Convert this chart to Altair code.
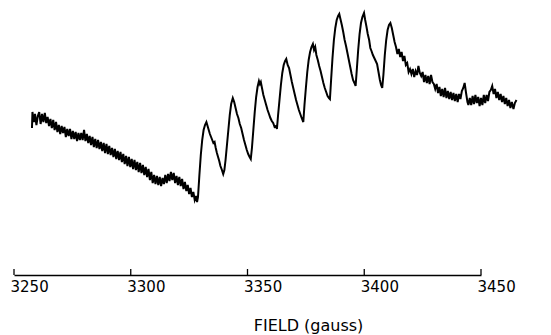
import altair as alt
import pandas as pd

# Magnetic field (gauss) and EPR derivative signal (arbitrary units)
field = [
    3257.7, 3257.9, 3258.5, 3259.0, 3259.6, 3260.2, 3260.8, 3261.4, 3262.0, 3262.6,
    3263.2, 3263.8, 3264.4, 3265.0, 3265.6, 3266.2, 3266.8, 3267.4, 3268.0, 3268.6,
    3269.2, 3269.8, 3270.4, 3271.0, 3271.6, 3272.2, 3272.8, 3273.4, 3274.0, 3274.6,
    3275.2, 3275.8, 3276.4, 3277.0, 3277.6, 3278.2, 3278.8, 3279.4, 3280.0, 3280.6,
    3281.2, 3281.8, 3282.4, 3283.0, 3283.6, 3284.2, 3284.8, 3285.4, 3286.0, 3286.6,
    3287.2, 3287.8, 3288.4, 3289.0, 3289.6, 3290.2, 3290.8, 3291.4, 3292.0, 3292.6,
    3293.2, 3293.8, 3294.4, 3295.0, 3295.6, 3296.2, 3296.8, 3297.4, 3298.0, 3298.6,
    3299.2, 3299.8, 3300.4, 3301.0, 3301.6, 3302.2, 3302.8, 3303.4, 3304.0, 3304.6,
    3305.2, 3305.8, 3306.4, 3307.0, 3307.6, 3308.2, 3308.8, 3309.4, 3310.0, 3310.6,
    3311.2, 3311.8, 3312.4, 3313.0, 3313.6, 3314.2, 3314.8, 3315.4, 3316.0, 3316.6,
    3317.2, 3317.8, 3318.4, 3319.0, 3319.6, 3320.2, 3320.8, 3321.4, 3322.0, 3322.6,
    3323.2, 3323.8, 3324.4, 3325.0, 3325.6, 3326.2, 3326.8, 3327.4, 3328.0, 3328.4,
    3328.8, 3329.4, 3330.0, 3330.6, 3331.2, 3331.8, 3332.4, 3332.9, 3333.4, 3333.9,
    3334.4, 3334.9, 3335.4, 3335.9, 3336.4, 3336.9, 3337.4, 3337.9, 3338.4, 3338.9,
    3339.6, 3340.1, 3340.6, 3341.2, 3341.8, 3342.4, 3343.0, 3343.7, 3344.3, 3344.9,
    3345.5, 3346.1, 3346.7, 3347.3, 3347.9, 3348.5, 3349.1, 3349.7, 3350.3, 3350.9,
    3351.4, 3351.9, 3352.5, 3353.1, 3353.7, 3354.3, 3354.9, 3355.3, 3355.7, 3356.2,
    3356.8, 3357.4, 3358.0, 3358.6, 3359.2, 3359.8, 3360.4, 3361.0, 3361.6, 3362.2,
    3362.6, 3363.1, 3363.7, 3364.3, 3364.9, 3365.5, 3366.1, 3366.6, 3367.2, 3367.8,
    3368.4, 3369.0, 3369.6, 3370.2, 3370.8, 3371.4, 3372.0, 3372.6, 3373.2, 3373.9,
    3374.4, 3375.0, 3375.6, 3376.2, 3376.8, 3377.4, 3378.0, 3378.5, 3379.0, 3379.5,
    3380.1, 3380.7, 3381.3, 3381.9, 3382.5, 3383.1, 3383.7, 3384.3, 3384.9, 3385.3,
    3385.8, 3386.4, 3387.0, 3387.6, 3388.2, 3388.8, 3389.3, 3389.8, 3390.4, 3391.0,
    3391.6, 3392.2, 3392.8, 3393.4, 3394.0, 3394.6, 3395.2, 3395.8, 3396.3, 3396.8,
    3397.4, 3398.0, 3398.6, 3399.2, 3399.9, 3400.4, 3400.9, 3401.5, 3402.1, 3402.6,
    3403.1, 3403.7, 3404.3, 3404.9, 3405.5, 3406.1, 3406.7, 3407.2, 3407.7, 3408.2,
    3408.8, 3409.4, 3410.0, 3410.6, 3411.2, 3411.8, 3412.4, 3413.0, 3413.6, 3414.2,
    3414.8, 3415.4, 3416.0, 3416.6, 3417.2, 3417.8, 3418.4, 3419.0, 3419.6, 3420.2,
    3420.8, 3421.4, 3422.0, 3422.6, 3423.2, 3423.8, 3424.4, 3425.0, 3425.6, 3426.2,
    3426.8, 3427.4, 3428.0, 3428.6, 3429.2, 3429.8, 3430.4, 3431.0, 3431.6, 3432.2,
    3432.8, 3433.4, 3434.0, 3434.6, 3435.2, 3435.8, 3436.4, 3437.0, 3437.6, 3438.2,
    3438.8, 3439.4, 3440.0, 3440.6, 3441.2, 3441.8, 3442.4, 3443.0, 3443.6, 3444.2,
    3444.6, 3445.2, 3445.8, 3446.4, 3447.0, 3447.6, 3448.2, 3448.8, 3449.4, 3450.0,
    3450.6, 3451.2, 3451.8, 3452.4, 3453.0, 3453.6, 3454.2, 3454.8, 3455.4, 3456.0,
    3456.6, 3457.2, 3457.8, 3458.4, 3459.0, 3459.6, 3460.2, 3460.8, 3461.4, 3462.0,
    3462.6, 3463.2, 3463.9, 3464.5, 3465.2,
]
signal = [
    72, 88, 78, 86, 75, 84, 88, 76, 86, 78,
    87, 77, 83, 74, 81, 72, 80, 70, 78, 68,
    75, 66, 74, 67, 73, 63, 71, 64, 71, 61,
    69, 61, 68, 59, 67, 60, 67, 60, 70, 59,
    66, 57, 64, 55, 63, 53, 61, 52, 60, 51,
    58, 49, 57, 47, 56, 46, 54, 45, 52, 43,
    51, 41, 49, 40, 48, 38, 46, 36, 44, 34,
    43, 33, 41, 31, 40, 30, 38, 28, 37, 27,
    35, 25, 33, 23, 31, 20, 28, 17, 25, 16,
    24, 15, 23, 14, 22, 16, 25, 17, 26, 19,
    28, 20, 27, 17, 24, 15, 23, 14, 21, 11,
    18, 9, 15, 6, 12, 3, 8, 0, 4, -2,
    3, 25, 45, 60, 70, 75, 78, 74, 70, 66,
    63, 60, 57, 58, 52, 47, 43, 39, 34, 31,
    26, 30, 40, 55, 70, 85, 96, 102, 98, 92,
    86, 82, 76, 72, 66, 60, 55, 50, 46, 43,
    41, 52, 70, 88, 103, 113, 119, 116, 118, 112,
    105, 100, 95, 90, 86, 82, 79, 77, 73, 74,
    71, 85, 100, 115, 127, 135, 139, 141, 135, 132,
    125, 118, 112, 106, 100, 95, 90, 86, 82, 78,
    95, 112, 128, 140, 148, 153, 156, 150, 153, 145,
    140, 134, 129, 123, 117, 112, 108, 104, 102, 101,
    120, 142, 160, 172, 180, 184, 186, 181, 175, 168,
    160, 154, 147, 140, 133, 126, 120, 117, 114, 130,
    150, 166, 177, 183, 187, 180, 174, 166, 160, 152,
    149, 145, 142, 139, 136, 128, 120, 115, 112, 125,
    145, 160, 170, 175, 177, 172, 165, 158, 153, 146,
    151, 143, 148, 139, 144, 135, 137, 128, 131, 126,
    131, 123, 129, 125, 134, 127, 124, 128, 118, 125,
    117, 124, 116, 125, 118, 116, 111, 116, 107, 113,
    104, 111, 103, 112, 102, 109, 101, 108, 100, 107,
    99, 106, 98, 106, 101, 109, 112, 117, 107, 98,
    95, 102, 95, 104, 96, 105, 97, 103, 94, 102,
    95, 105, 97, 105, 99, 108, 110, 114, 106, 111,
    102, 108, 100, 106, 98, 104, 96, 102, 94, 100,
    92, 98, 91, 97, 100,
]
tick_values = [3250, 3300, 3350, 3400, 3450]

df = pd.DataFrame({"field": field, "signal": signal})
ticks_df = pd.DataFrame({"field": tick_values})

xscale = alt.Scale(domain=[3250, 3450], nice=False, zero=False)

trace = alt.Chart(df).mark_line(color="black", strokeWidth=2, clip=False).encode(
    x=alt.X(
        "field:Q",
        scale=xscale,
        axis=alt.Axis(
            values=tick_values,
            format="d",
            ticks=False,
            grid=False,
            domainColor="black",
            domainWidth=1.5,
            labelFont="DejaVu Sans",
            labelFontSize=15,
            labelColor="black",
            labelAlign="left",
            labelOffset=-4,
            labelBaseline="top",
            labelPadding=4,
            labelFlush=False,
            labelOverlap=False,
            title="FIELD (gauss)",
            titleFont="DejaVu Sans",
            titleFontSize=16,
            titleFontWeight="normal",
            titleColor="black",
            titleX=294,
            titleY=50,
            titleAlign="center",
            titleBaseline="middle",
        ),
    ),
    y=alt.Y("signal:Q", scale=alt.Scale(domain=[-75, 200], nice=False, zero=False), axis=None),
)

tick_marks = alt.Chart(ticks_df).mark_rule(color="black", strokeWidth=1.3).encode(
    x=alt.X("field:Q", scale=xscale),
    y=alt.value(269),
    y2=alt.value(275),
)

chart = alt.layer(trace, tick_marks).properties(
    width=467,
    height=275,
    background="white",
    autosize=alt.AutoSizeParams(type="none"),
    padding={"left": 14, "top": 0, "right": 70, "bottom": 60},
).configure_view(strokeWidth=0)

chart.save("out.html", embed_options={"renderer": "svg", "actions": False})
